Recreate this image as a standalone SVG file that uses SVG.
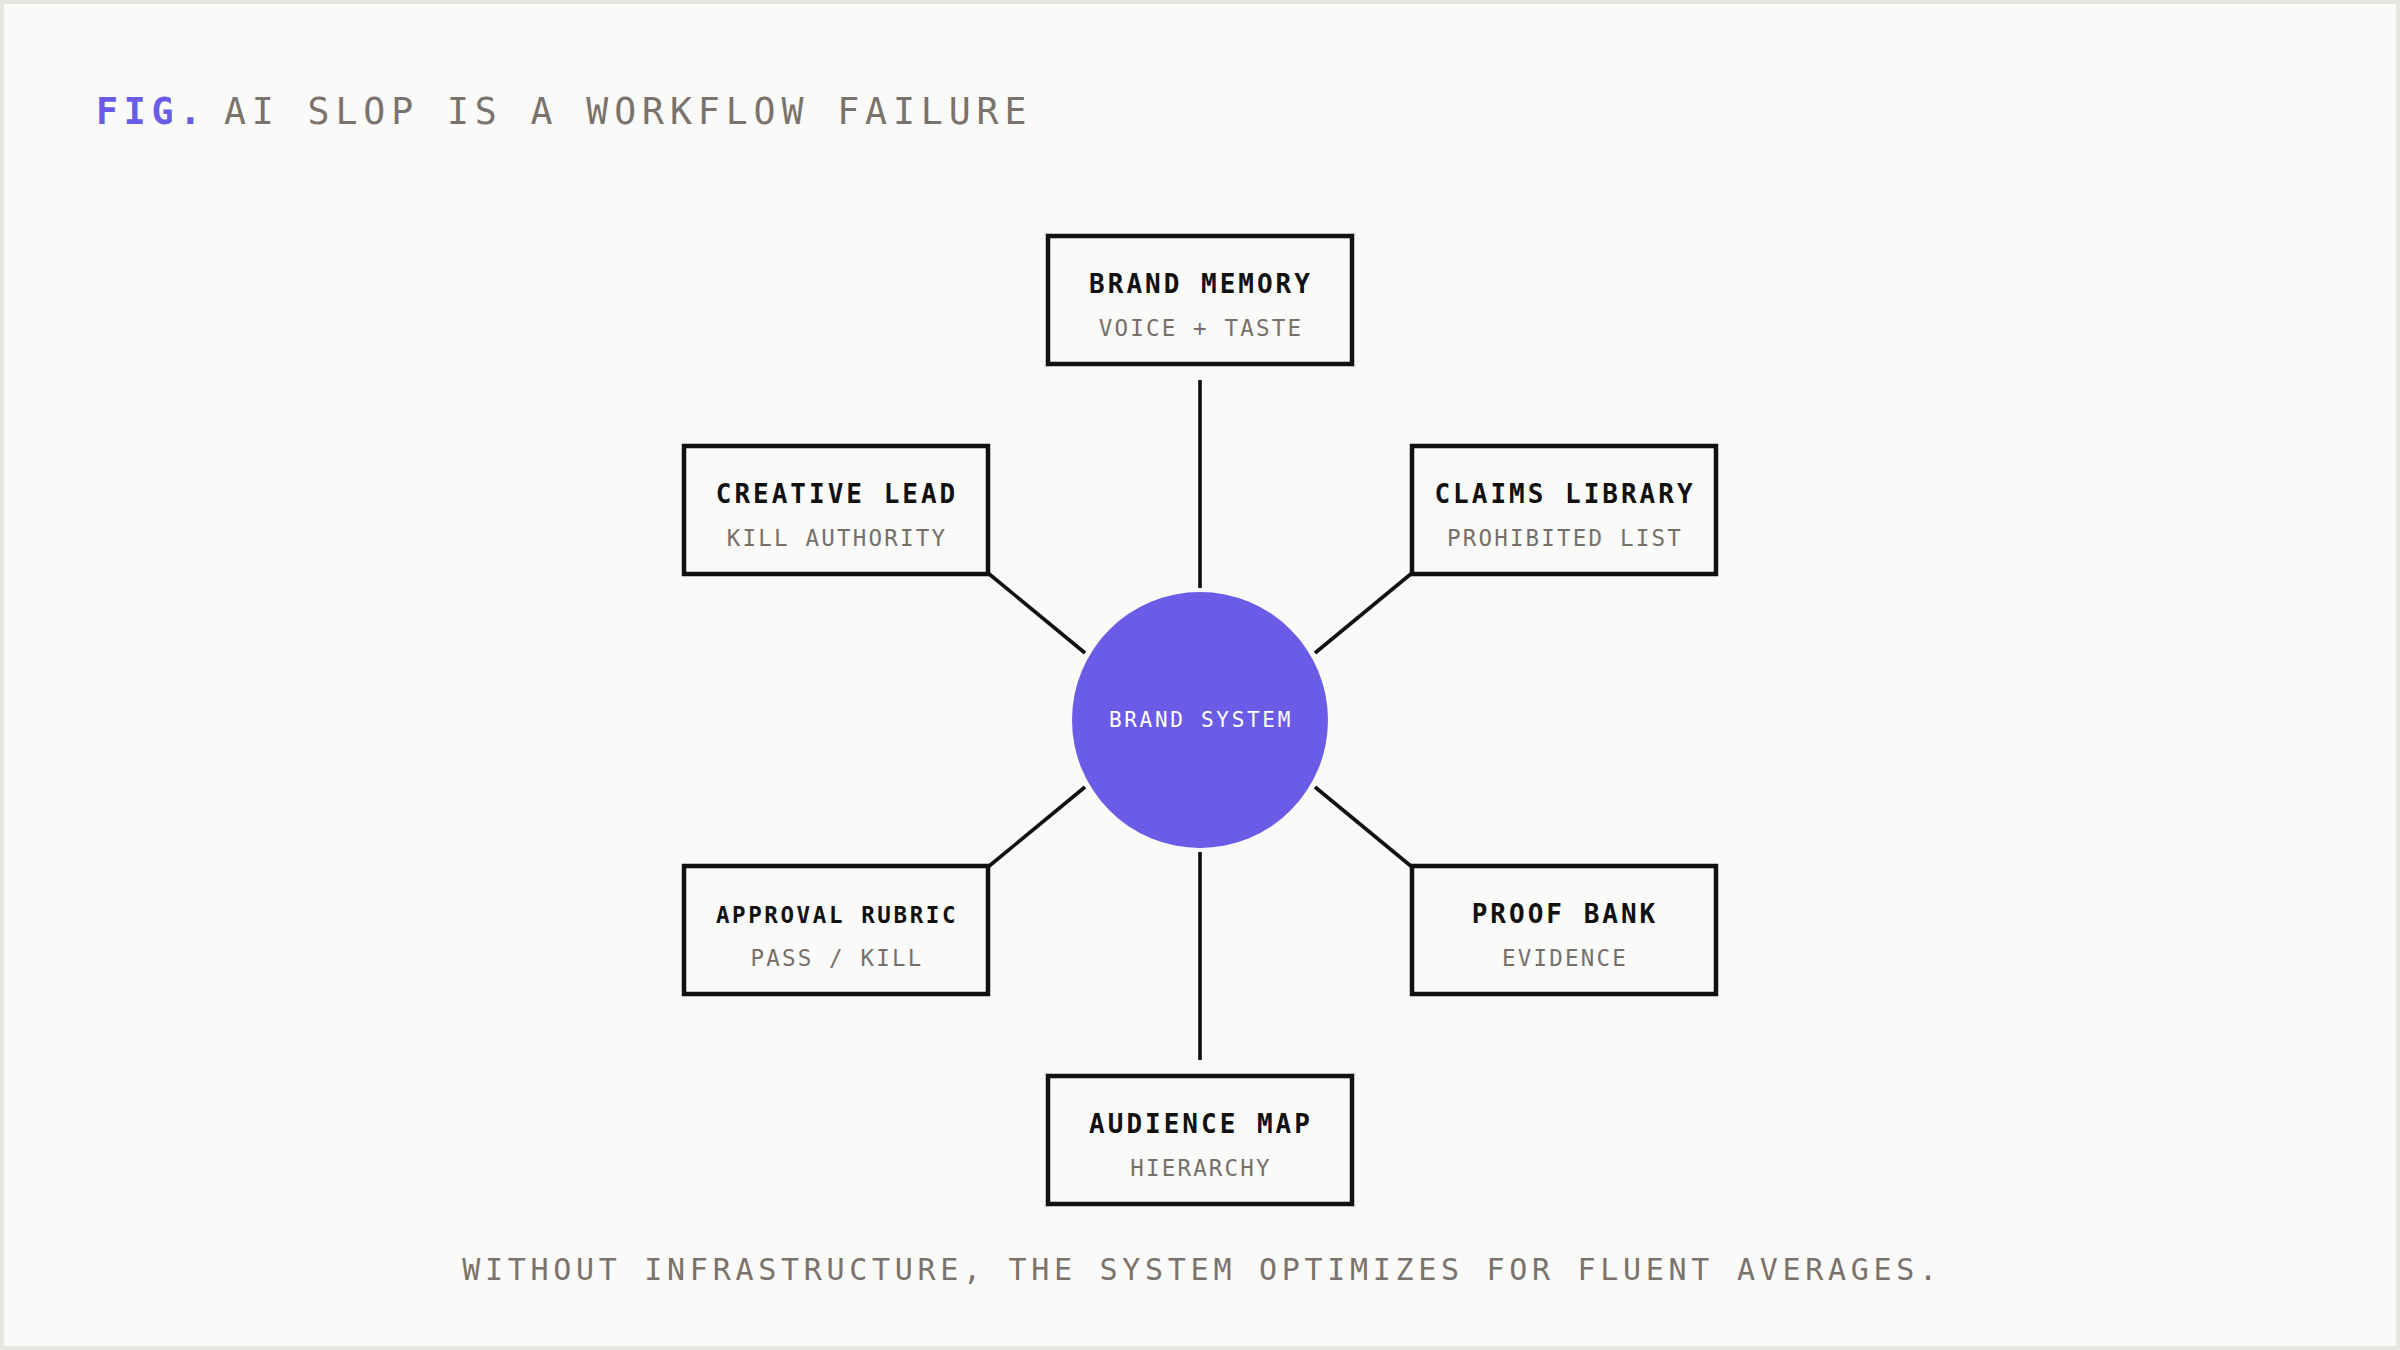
<svg xmlns="http://www.w3.org/2000/svg" width="2400" height="1350" viewBox="0 0 2400 1350">
  <style>
    .mono { font-family: "DejaVu Sans Mono", "Liberation Mono", monospace; }
    .box { fill: #FAFAF8; stroke: #111111; stroke-width: 4.5; }
    .ttl { font-size: 26px; font-weight: bold; letter-spacing: 3px; fill: #111111; text-anchor: middle; }
    .ttl-s { font-size: 22.5px; font-weight: bold; letter-spacing: 2.6px; fill: #111111; text-anchor: middle; }
    .sub { font-size: 22.5px; letter-spacing: 2.2px; fill: #77706A; text-anchor: middle; }
    .conn line { stroke: #111111; stroke-width: 3.6; }
  </style>
  <rect x="0" y="0" width="2400" height="1350" fill="#E6E5E2"/>
  <rect x="4" y="4" width="2392" height="1342" fill="#FAFAF8"/>

  <g id="title" class="mono">
    <text x="96" y="124" font-size="36.5" font-weight="bold" letter-spacing="5.8" fill="#6B5CE7">FIG.</text>
    <text x="224" y="124" font-size="36.5" letter-spacing="5.9" fill="#7A736D">AI SLOP IS A WORKFLOW FAILURE</text>
  </g>

  <g id="connectors" class="conn">
    <line x1="1200" y1="380" x2="1200" y2="588"/>
    <line x1="1200" y1="852" x2="1200" y2="1060"/>
    <line x1="988" y1="573" x2="1085" y2="653"/>
    <line x1="1412" y1="573" x2="1315" y2="653"/>
    <line x1="988" y1="867" x2="1085" y2="787"/>
    <line x1="1412" y1="867" x2="1315" y2="787"/>
  </g>

  <g id="brand-system" class="mono">
    <circle cx="1200" cy="720" r="128" fill="#6B5CE7"/>
    <text x="1201" y="727" font-size="21" letter-spacing="2.7" fill="#FFFFFF" text-anchor="middle">BRAND SYSTEM</text>
  </g>

  <g id="brand-memory" class="mono">
    <rect class="box" x="1048" y="236" width="304" height="128"/>
    <text class="ttl" x="1201" y="293">BRAND MEMORY</text>
    <text class="sub" x="1201" y="336">VOICE + TASTE</text>
  </g>

  <g id="creative-lead" class="mono">
    <rect class="box" x="684" y="446" width="304" height="128"/>
    <text class="ttl" x="837" y="503">CREATIVE LEAD</text>
    <text class="sub" x="837" y="546">KILL AUTHORITY</text>
  </g>

  <g id="claims-library" class="mono">
    <rect class="box" x="1412" y="446" width="304" height="128"/>
    <text class="ttl" x="1565" y="503">CLAIMS LIBRARY</text>
    <text class="sub" x="1565" y="546">PROHIBITED LIST</text>
  </g>

  <g id="approval-rubric" class="mono">
    <rect class="box" x="684" y="866" width="304" height="128"/>
    <text class="ttl-s" x="837" y="923">APPROVAL RUBRIC</text>
    <text class="sub" x="837" y="966">PASS / KILL</text>
  </g>

  <g id="proof-bank" class="mono">
    <rect class="box" x="1412" y="866" width="304" height="128"/>
    <text class="ttl" x="1565" y="923">PROOF BANK</text>
    <text class="sub" x="1565" y="966">EVIDENCE</text>
  </g>

  <g id="audience-map" class="mono">
    <rect class="box" x="1048" y="1076" width="304" height="128"/>
    <text class="ttl" x="1201" y="1133">AUDIENCE MAP</text>
    <text class="sub" x="1201" y="1176">HIERARCHY</text>
  </g>

  <g id="caption" class="mono">
    <text x="1202" y="1280" font-size="30" letter-spacing="4.7" fill="#7A736D" text-anchor="middle">WITHOUT INFRASTRUCTURE, THE SYSTEM OPTIMIZES FOR FLUENT AVERAGES.</text>
  </g>
</svg>
